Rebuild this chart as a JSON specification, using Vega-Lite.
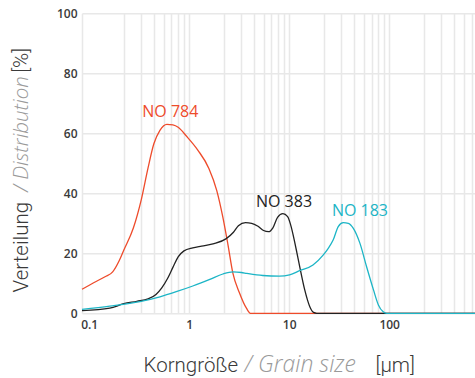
{
  "$schema": "https://vega.github.io/schema/vega-lite/v6.json",
  "width": 393,
  "height": 300,
  "autosize": {"type": "none"},
  "padding": {"left": 82, "top": 13.3, "right": 0, "bottom": 64.7},
  "background": "white",
  "config": {"view": {"stroke": null}},
  "datasets": {
    "curves": [
      {"series": "NO 784", "size": 0.0765, "value": 8.0},
      {"series": "NO 784", "size": 0.1, "value": 10.2},
      {"series": "NO 784", "size": 0.13, "value": 12.2},
      {"series": "NO 784", "size": 0.155, "value": 13.8},
      {"series": "NO 784", "size": 0.18, "value": 17.5},
      {"series": "NO 784", "size": 0.2, "value": 21},
      {"series": "NO 784", "size": 0.25, "value": 28.5},
      {"series": "NO 784", "size": 0.3, "value": 38},
      {"series": "NO 784", "size": 0.35, "value": 48.5},
      {"series": "NO 784", "size": 0.4, "value": 56.5},
      {"series": "NO 784", "size": 0.46, "value": 61},
      {"series": "NO 784", "size": 0.54, "value": 63.0},
      {"series": "NO 784", "size": 0.62, "value": 62.8},
      {"series": "NO 784", "size": 0.7, "value": 62},
      {"series": "NO 784", "size": 0.85, "value": 59},
      {"series": "NO 784", "size": 1.1, "value": 54.4},
      {"series": "NO 784", "size": 1.42, "value": 48.3},
      {"series": "NO 784", "size": 1.7, "value": 41},
      {"series": "NO 784", "size": 1.96, "value": 32},
      {"series": "NO 784", "size": 2.2, "value": 23},
      {"series": "NO 784", "size": 2.47, "value": 13.3},
      {"series": "NO 784", "size": 2.88, "value": 6.7},
      {"series": "NO 784", "size": 3.37, "value": 1.7},
      {"series": "NO 784", "size": 3.7, "value": 0},
      {"series": "NO 784", "size": 650, "value": 0},
      {"series": "NO 383", "size": 0.0765, "value": 0.9},
      {"series": "NO 383", "size": 0.145, "value": 1.7},
      {"series": "NO 383", "size": 0.2, "value": 3.2},
      {"series": "NO 383", "size": 0.27, "value": 4.0},
      {"series": "NO 383", "size": 0.35, "value": 4.8},
      {"series": "NO 383", "size": 0.42, "value": 6.3},
      {"series": "NO 383", "size": 0.48, "value": 8.5},
      {"series": "NO 383", "size": 0.55, "value": 11.7},
      {"series": "NO 383", "size": 0.62, "value": 15.3},
      {"series": "NO 383", "size": 0.7, "value": 18.8},
      {"series": "NO 383", "size": 0.8, "value": 20.8},
      {"series": "NO 383", "size": 0.98, "value": 21.8},
      {"series": "NO 383", "size": 1.2, "value": 22.4},
      {"series": "NO 383", "size": 1.6, "value": 23.2},
      {"series": "NO 383", "size": 2.1, "value": 24.8},
      {"series": "NO 383", "size": 2.5, "value": 27},
      {"series": "NO 383", "size": 2.8, "value": 29.2},
      {"series": "NO 383", "size": 3.3, "value": 30.2},
      {"series": "NO 383", "size": 3.8, "value": 30},
      {"series": "NO 383", "size": 4.4, "value": 29},
      {"series": "NO 383", "size": 5.0, "value": 27.6},
      {"series": "NO 383", "size": 5.6, "value": 27.2},
      {"series": "NO 383", "size": 6.2, "value": 28.5},
      {"series": "NO 383", "size": 6.9, "value": 32},
      {"series": "NO 383", "size": 7.8, "value": 33.2},
      {"series": "NO 383", "size": 8.7, "value": 32.2},
      {"series": "NO 383", "size": 9.5, "value": 28.5},
      {"series": "NO 383", "size": 10.2, "value": 24},
      {"series": "NO 383", "size": 10.8, "value": 20},
      {"series": "NO 383", "size": 11.5, "value": 15.5},
      {"series": "NO 383", "size": 12.9, "value": 7.8},
      {"series": "NO 383", "size": 14.5, "value": 2.2},
      {"series": "NO 383", "size": 15.8, "value": 0.3},
      {"series": "NO 383", "size": 17, "value": 0},
      {"series": "NO 383", "size": 650, "value": 0},
      {"series": "NO 183", "size": 0.0765, "value": 1.3},
      {"series": "NO 183", "size": 0.145, "value": 2.4},
      {"series": "NO 183", "size": 0.29, "value": 3.9},
      {"series": "NO 183", "size": 0.46, "value": 5.5},
      {"series": "NO 183", "size": 0.67, "value": 7.2},
      {"series": "NO 183", "size": 0.98, "value": 9.1},
      {"series": "NO 183", "size": 1.45, "value": 11.3},
      {"series": "NO 183", "size": 1.96, "value": 13.1},
      {"series": "NO 183", "size": 2.47, "value": 13.8},
      {"series": "NO 183", "size": 3.0, "value": 13.6},
      {"series": "NO 183", "size": 3.4, "value": 13.3},
      {"series": "NO 183", "size": 4.9, "value": 12.6},
      {"series": "NO 183", "size": 7.2, "value": 12.4},
      {"series": "NO 183", "size": 9.1, "value": 12.8},
      {"series": "NO 183", "size": 11.5, "value": 14.2},
      {"series": "NO 183", "size": 15.6, "value": 16.1},
      {"series": "NO 183", "size": 19.7, "value": 19.4},
      {"series": "NO 183", "size": 22, "value": 21.5},
      {"series": "NO 183", "size": 24.8, "value": 24.4},
      {"series": "NO 183", "size": 27.9, "value": 28.9},
      {"series": "NO 183", "size": 31.3, "value": 30.2},
      {"series": "NO 183", "size": 35.2, "value": 30},
      {"series": "NO 183", "size": 39.5, "value": 28.3},
      {"series": "NO 183", "size": 46, "value": 23.3},
      {"series": "NO 183", "size": 53.6, "value": 15.5},
      {"series": "NO 183", "size": 62.8, "value": 7.8},
      {"series": "NO 183", "size": 70.3, "value": 2.8},
      {"series": "NO 183", "size": 78.5, "value": 0.5},
      {"series": "NO 183", "size": 85, "value": 0},
      {"series": "NO 183", "size": 650, "value": 0}
    ],
    "labels": [
      {"series": "NO 784", "size": 0.585, "value": 65.3},
      {"series": "NO 383", "size": 8.0, "value": 35.5},
      {"series": "NO 183", "size": 46, "value": 32.5}
    ]
  },
  "resolve": {
    "scale": {"x": "shared", "y": "shared", "color": "shared"},
    "axis": {"x": "independent", "y": "independent"}
  },
  "layer": [
    {
      "data": {"name": "curves"},
      "mark": {"type": "line", "interpolate": "monotone", "strokeWidth": 1.3, "clip": false},
      "encoding": {
        "x": {
          "field": "size", "type": "quantitative",
          "scale": {"type": "log", "domain": [0.0765, 650], "nice": false},
          "axis": {
            "orient": "bottom",
            "values": [0.2,0.3,0.4,0.5,0.6,0.7,0.8,0.9,2,3,4,5,6,7,8,9,20,30,40,50,60,70,80,90,200,300,400,500,600],
            "labels": false, "ticks": false, "domain": false,
            "grid": true, "gridColor": "#e8e8e8", "gridWidth": 1.5,
            "title": "Korngröße",
            "titleFont": "Roboto", "titleFontWeight": 300, "titleFontSize": 20.5, "titleColor": "#3a3a3a",
            "titleAlign": "left", "titleBaseline": "alphabetic", "titleAnchor": "start",
            "titleX": 61, "titleY": 58.2
          }
        },
        "y": {
          "field": "value", "type": "quantitative",
          "scale": {"domain": [0, 100], "nice": false},
          "axis": {
            "orient": "left",
            "values": [0, 20, 40, 60, 80, 100],
            "grid": true, "gridColor": "#e8e8e8", "gridWidth": 1.5,
            "domain": true, "domainColor": "#e8e8e8", "domainWidth": 1.5,
            "ticks": false, "labelPadding": 5,
            "labelFont": "Open Sans", "labelFontSize": 12, "labelFontWeight": 600, "labelColor": "#3a3a3a",
            "title": "Verteilung",
            "titleFont": "Roboto", "titleFontWeight": 300, "titleFontSize": 20.5, "titleColor": "#3a3a3a",
            "titleAngle": -90, "titleAlign": "left", "titleBaseline": "alphabetic", "titleAnchor": "start",
            "titleX": -54.5, "titleY": 278.7
          }
        },
        "color": {
          "field": "series", "type": "nominal",
          "scale": {"domain": ["NO 784", "NO 383", "NO 183"], "range": ["#ee4b2b", "#222222", "#1cb5c6"]},
          "legend": null
        },
        "order": {"field": "size", "type": "quantitative"}
      }
    },
    {
      "data": {"name": "labels"},
      "transform": [{"filter": "datum.series != 'NO 183'"}],
      "mark": {"type": "text", "font": "Open Sans", "fontSize": 16, "align": "center", "baseline": "alphabetic"},
      "encoding": {
        "x": {
          "field": "size", "type": "quantitative",
          "axis": {
            "orient": "bottom",
            "values": [0.1, 1, 10, 100],
            "grid": false, "ticks": false, "domain": false, "labelFlush": false,
            "labelPadding": 6, "labelOffset": -4.5,
            "labelFont": "Open Sans", "labelFontSize": 12, "labelFontWeight": 600, "labelColor": "#3a3a3a",
            "title": "/ Grain size",
            "titleFont": "Open Sans", "titleFontWeight": 300, "titleFontStyle": "italic", "titleFontSize": 23, "titleColor": "#9a9a9a",
            "titleAlign": "left", "titleBaseline": "alphabetic", "titleAnchor": "start",
            "titleX": 162, "titleY": 58.2
          }
        },
        "y": {
          "field": "value", "type": "quantitative",
          "axis": {
            "orient": "left", "labels": false, "grid": false, "ticks": false, "domain": false,
            "title": "/ Distribution",
            "titleFont": "Open Sans", "titleFontWeight": 300, "titleFontStyle": "italic", "titleFontSize": 20.5, "titleColor": "#9a9a9a",
            "titleAngle": -90, "titleAlign": "left", "titleBaseline": "alphabetic", "titleAnchor": "start",
            "titleX": -54.5, "titleY": 178
          }
        },
        "text": {"field": "series"},
        "color": {"field": "series", "type": "nominal", "legend": null}
      }
    },
    {
      "data": {"name": "labels"},
      "transform": [{"filter": "datum.series == 'NO 183'"}],
      "mark": {"type": "text", "font": "Open Sans", "fontSize": 16, "align": "center", "baseline": "alphabetic"},
      "encoding": {
        "x": {
          "field": "size", "type": "quantitative",
          "axis": {
            "orient": "bottom", "labels": false, "grid": false, "ticks": false, "domain": false,
            "title": "[µm]",
            "titleFont": "Roboto", "titleFontWeight": 300, "titleFontSize": 20.5, "titleColor": "#3a3a3a",
            "titleAlign": "left", "titleBaseline": "alphabetic", "titleAnchor": "start",
            "titleX": 293, "titleY": 58.2
          }
        },
        "y": {
          "field": "value", "type": "quantitative",
          "axis": {
            "orient": "left", "labels": false, "grid": false, "ticks": false, "domain": false,
            "title": "[%]",
            "titleFont": "Roboto", "titleFontWeight": 300, "titleFontSize": 20.5, "titleColor": "#3a3a3a",
            "titleAngle": -90, "titleAlign": "left", "titleBaseline": "alphabetic", "titleAnchor": "start",
            "titleX": -54.5, "titleY": 59
          }
        },
        "text": {"field": "series"},
        "color": {"field": "series", "type": "nominal", "legend": null}
      }
    }
  ]
}
